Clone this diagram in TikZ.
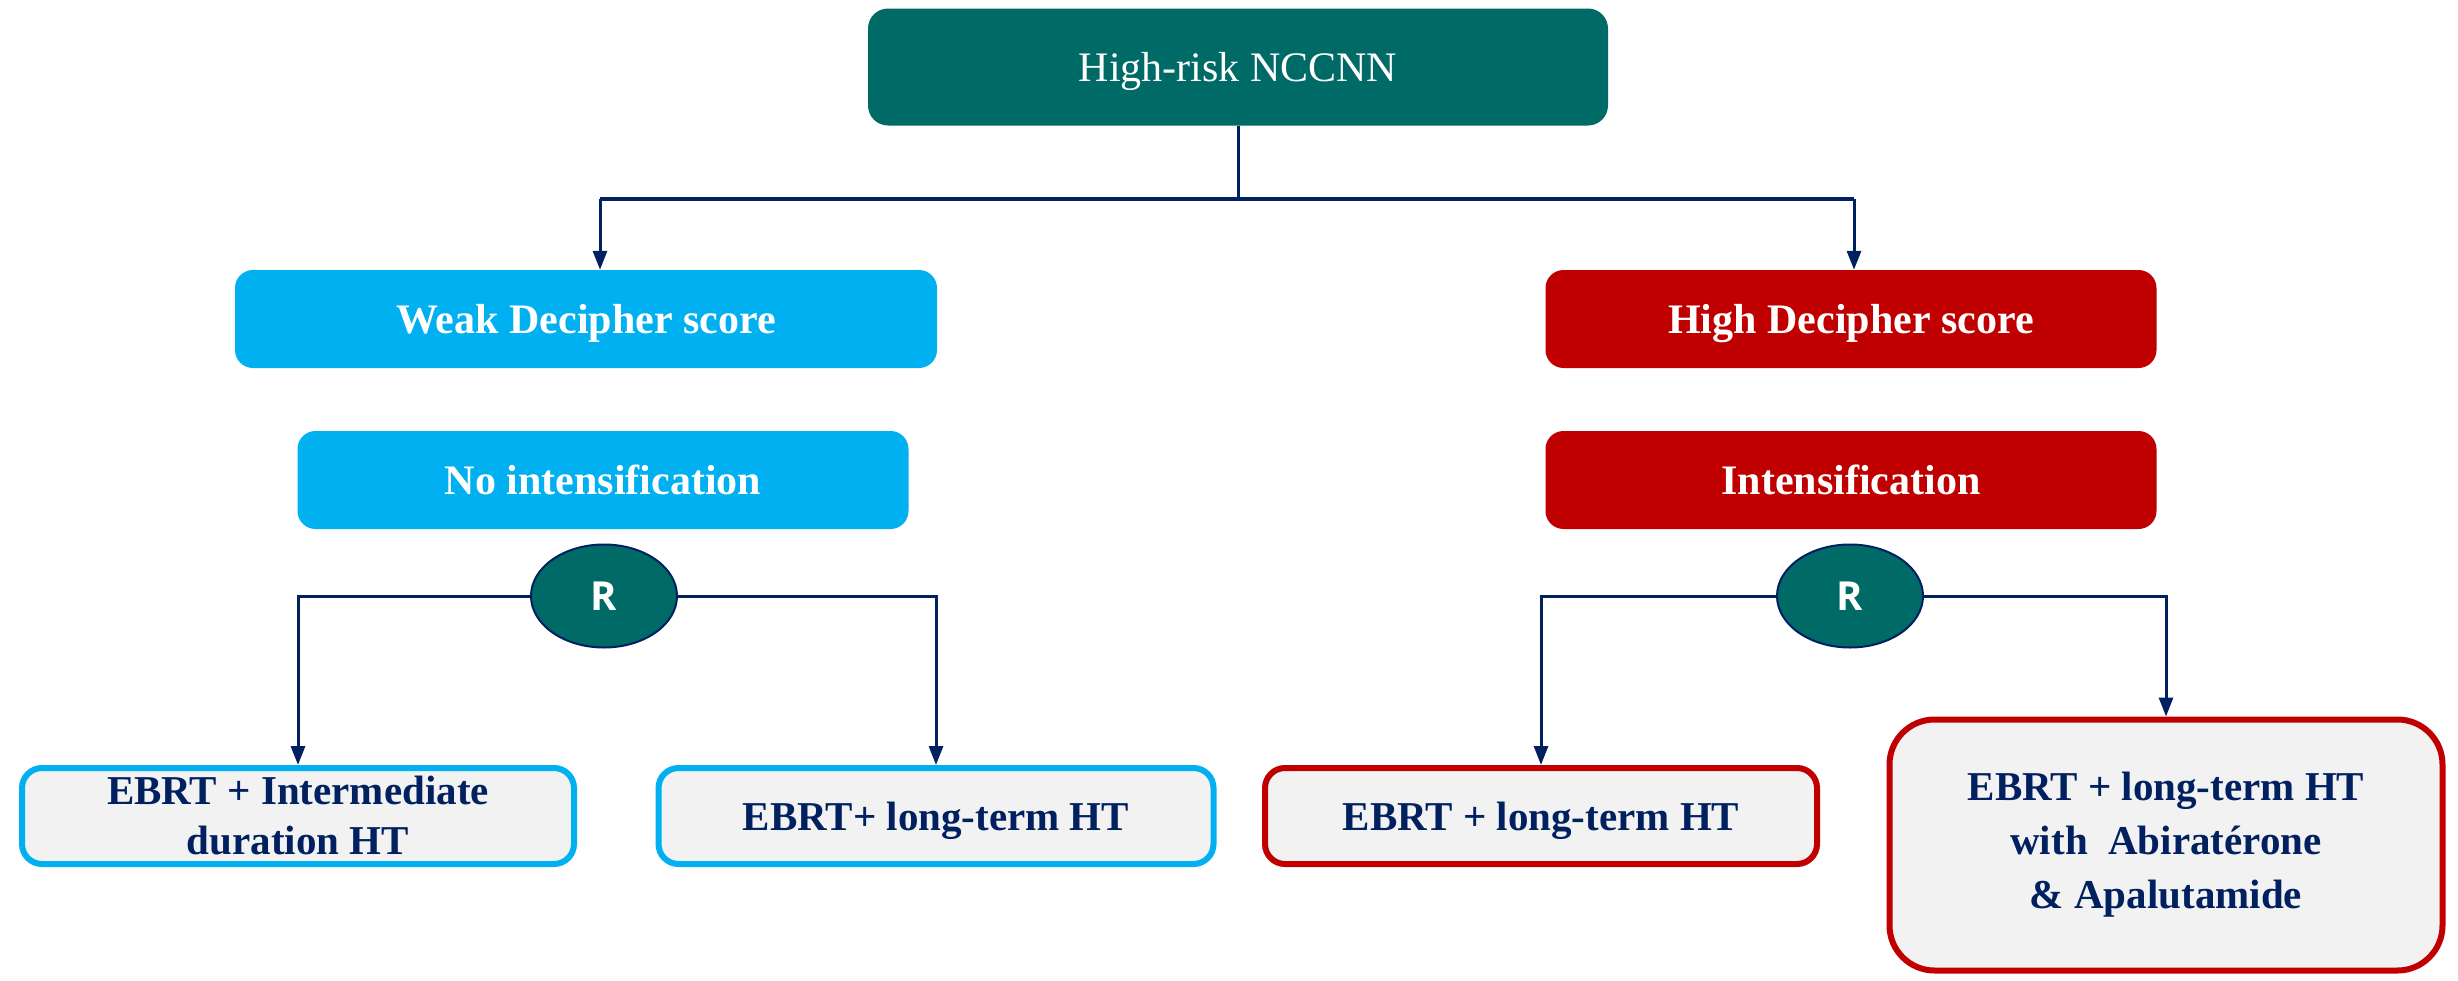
\documentclass[tikz,border=0pt]{standalone}
\usepackage{fontspec}
\setmainfont{Liberation Serif}
\newfontfamily\rfont{Open Sans}
\usetikzlibrary{shapes.geometric,arrows.meta}
\definecolor{tealbox}{HTML}{006A66}
\definecolor{navy}{HTML}{002060}
\definecolor{cyanbox}{HTML}{00B0F0}
\definecolor{redbox}{HTML}{C00000}
\definecolor{greyfill}{HTML}{F2F2F2}
\tikzset{
  capcenter/.style={text height=28pt, text depth=0pt},
  topbox/.style={fill=tealbox, draw=none, rounded corners=20pt, text=white, font=\fontsize{42}{50}\selectfont, inner sep=0pt, capcenter},
  cbox/.style={fill=#1, draw=none, rounded corners=18pt, text=white, font=\fontsize{42}{50}\selectfont\bfseries, inner sep=0pt, minimum height=98pt, capcenter},
  resbox/.style={fill=greyfill, draw=#1, line width=6pt, rounded corners=20pt, text=navy, font=\fontsize{41}{50}\selectfont\bfseries, align=center, inner sep=0pt, minimum height=96pt},
  rnode/.style={ellipse, fill=tealbox, draw=navy, line width=2pt, minimum width=146pt, minimum height=103pt, inner sep=0pt, text=white, font=\rfont\fontsize{40}{48}\selectfont\bfseries},
  conn/.style={draw=navy, line width=3pt},
  arr/.style={conn, -{Triangle[length=19pt,width=14pt]}}
}
\begin{document}
\begin{tikzpicture}[x=1pt,y=-1pt]
\useasboundingbox (0,0) rectangle (2458,980);
% top
\node[topbox, minimum width=740pt, minimum height=117pt] (top) at (1238,67) {High-risk NCCNN};
% level 1
\node[cbox=cyanbox, minimum width=702pt] (weak) at (586,319) {Weak Decipher score};
\node[cbox=redbox, minimum width=611pt] (high) at (1851,319) {High Decipher score};
% level 2
\node[cbox=cyanbox, minimum width=611pt] (noint) at (603,480) {No intensification};
\node[cbox=redbox, minimum width=611pt] (int) at (1851,480) {Intensification};
% R nodes
\node[rnode] (r1) at (604,596) {R};
\node[rnode] (r2) at (1850,596) {R};
% results
\node[resbox=cyanbox, minimum width=552pt] (b1) at (298,816) {EBRT + Intermediate\\duration HT};
\node[resbox=cyanbox, minimum width=555pt, capcenter] (b2) at (936,816) {EBRT+ long-term HT};
\node[resbox=redbox, minimum width=552pt, capcenter] (b3) at (1541,816) {EBRT + long-term HT};
\node[resbox=redbox, minimum width=553pt, minimum height=251pt, rounded corners=45pt, font=\fontsize{41}{54}\selectfont\bfseries] (b4) at (2166,845) {EBRT + long-term HT\\with\ \ Abiratérone\\\& Apalutamide};
% connectors
\coordinate (split) at (1238,199);
\coordinate (wl) at (600,199);
\coordinate (hr) at (1854,199);
\draw[conn] (top.south) -- (split);
\draw[conn, line width=4pt] (wl) -- (hr);
\draw[arr] (wl) -- (wl |- weak.north);
\draw[arr] (hr) -- (hr |- high.north);
\draw[arr] (r1.west) -| (b1.north);
\draw[arr] (r1.east) -| (b2.north);
\draw[arr] (r2.west) -| (b3.north);
\draw[arr] (r2.east) -| (b4.north);
\end{tikzpicture}
\end{document}
